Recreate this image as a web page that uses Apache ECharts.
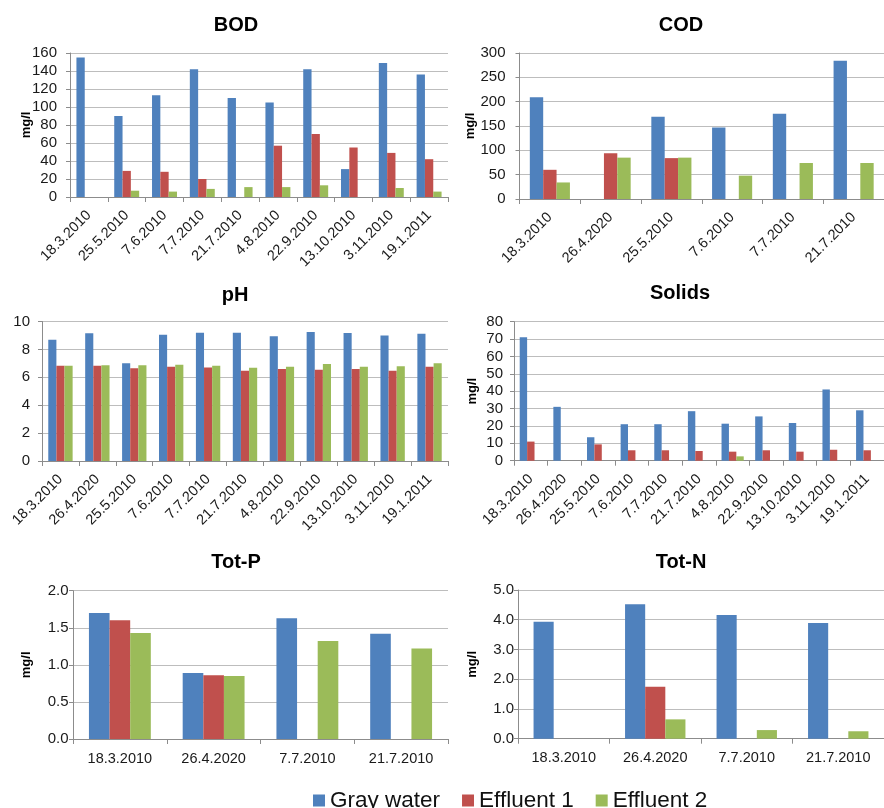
<!DOCTYPE html>
<html>
<head>
<meta charset="utf-8">
<script src="https://cdn.jsdelivr.net/npm/echarts@6/dist/echarts.min.js"></script>
<style>html,body{margin:0;padding:0;background:#fff;}#c{width:884px;height:808px;}</style>
</head>
<body>
<div id="c"></div>
<script>
const seriesNames = ['Gray water', 'Effluent 1', 'Effluent 2'];
const seriesColors = ['#4F81BD', '#C0504D', '#9BBB59'];

const bodDates = ['18.3.2010','25.5.2010','7.6.2010','7.7.2010','21.7.2010','4.8.2010','22.9.2010','13.10.2010','3.11.2010','19.1.2011'];
const bodGray = [155, 90, 113, 142, 110, 105, 142, 31, 149, 136];
const bodEff1 = [null, 29, 28, 20, null, 57, 70, 55, 49, 42];
const bodEff2 = [null, 7, 6, 9, 11, 11, 13, null, 10, 6];

const codDates = ['18.3.2010','26.4.2020','25.5.2010','7.6.2010','7.7.2010','21.7.2010'];
const codGray = [209, null, 169, 147, 175, 284];
const codEff1 = [60, 94, 84, null, null, null];
const codEff2 = [34, 85, 85, 48, 74, 74];

const phDates = ['18.3.2010','26.4.2020','25.5.2010','7.6.2010','7.7.2010','21.7.2010','4.8.2010','22.9.2010','13.10.2010','3.11.2010','19.1.2011'];
const phGray = [8.7, 9.15, 7.0, 9.05, 9.2, 9.2, 8.95, 9.25, 9.17, 9.0, 9.12];
const phEff1 = [6.82, 6.82, 6.65, 6.75, 6.7, 6.47, 6.6, 6.55, 6.6, 6.47, 6.75];
const phEff2 = [6.82, 6.87, 6.87, 6.9, 6.82, 6.68, 6.75, 6.95, 6.75, 6.8, 7.0];

const solidsDates = ['18.3.2010','26.4.2020','25.5.2010','7.6.2010','7.7.2010','21.7.2010','4.8.2010','22.9.2010','13.10.2010','3.11.2010','19.1.2011'];
const solidsGray = [71, 31, 13.5, 21, 21, 28.5, 21.3, 25.5, 21.7, 41, 29];
const solidsEff1 = [11, null, 9.4, 6, 6, 5.6, 5.2, 6, 5.2, 6.3, 6];
const solidsEff2 = [null, null, null, null, null, null, 2.5, null, null, null, null];

const totPDates = ['18.3.2010','26.4.2020','7.7.2010','21.7.2010'];
const totPGray = [1.70, 0.89, 1.63, 1.42];
const totPEff1 = [1.60, 0.86, null, null];
const totPEff2 = [1.43, 0.85, 1.32, 1.22];

const totNDates = ['18.3.2010','26.4.2020','7.7.2010','21.7.2010'];
const totNGray = [3.93, 4.52, 4.16, 3.89];
const totNEff1 = [null, 1.75, null, null];
const totNEff2 = [null, 0.65, 0.29, 0.25];

const panels = [
  {title: 'BOD', tx: 231, ty: 10, cats: bodDates, data: [bodGray, bodEff1, bodEff2], min: 0, max: 160, interval: 20, dec: 0, rot: 45, yname: 'mg/l', nameGap: 37, ymargin: 13,
   grid: {left: 70, top: 53, width: 378, height: 144}},
  {title: 'COD', tx: 676, ty: 10, cats: codDates, data: [codGray, codEff1, codEff2], min: 0, max: 300, interval: 50, dec: 0, rot: 45, yname: 'mg/l', nameGap: 43, ymargin: 14,
   grid: {left: 519.5, top: 53, width: 373, height: 146}},
  {title: 'pH', tx: 230, ty: 280, cats: phDates, data: [phGray, phEff1, phEff2], min: 0, max: 10, interval: 2, dec: 0, rot: 45, yname: '', nameGap: 30, ymargin: 12,
   grid: {left: 42, top: 321.5, width: 406, height: 139.5}},
  {title: 'Solids', tx: 675, ty: 278, cats: solidsDates, data: [solidsGray, solidsEff1, solidsEff2], min: 0, max: 80, interval: 10, dec: 0, rot: 45, yname: 'mg/l', nameGap: 35, ymargin: 11,
   grid: {left: 514, top: 321.7, width: 378.4, height: 139}},
  {title: 'Tot-P', tx: 231, ty: 547, cats: totPDates, data: [totPGray, totPEff1, totPEff2], min: 0, max: 2, interval: 0.5, dec: 1, rot: 0, yname: 'mg/l', nameGap: 40, ymargin: 4.5,
   grid: {left: 73, top: 590.7, width: 375, height: 148.3}},
  {title: 'Tot-N', tx: 676, ty: 547, cats: totNDates, data: [totNGray, totNEff1, totNEff2], min: 0, max: 5, interval: 1, dec: 1, rot: 0, yname: 'mg/l', nameGap: 39.5, ymargin: 4,
   grid: {left: 518, top: 590, width: 375, height: 148.7}}
];

const FONT = '"Liberation Sans", Arial, sans-serif';
const option = {
  animation: false,
  backgroundColor: '#ffffff',
  color: seriesColors,
  textStyle: {fontFamily: FONT},
  title: [], grid: [], xAxis: [], yAxis: [], series: [],
  legend: {
    data: seriesNames,
    left: 308, top: 784, padding: 5,
    itemWidth: 12, itemHeight: 12, itemGap: 22,
    icon: 'rect',
    textStyle: {fontFamily: FONT, fontSize: 22.5, color: '#111'}
  }
};

panels.forEach((p, i) => {
  option.title.push({
    text: p.title, left: p.tx, top: p.ty, textAlign: 'center',
    textStyle: {fontFamily: FONT, fontSize: 20, fontWeight: 'bold', color: '#000'}
  });
  option.grid.push(Object.assign({containLabel: false}, p.grid));
  option.xAxis.push({
    type: 'category', gridIndex: i, data: p.cats, boundaryGap: true,
    axisLine: {show: true, lineStyle: {color: '#8c8c8c', width: 1}},
    axisTick: {show: true, alignWithLabel: false, length: 5, lineStyle: {color: '#8c8c8c'}},
    axisLabel: {interval: 0, rotate: p.rot, margin: p.rot ? 16 : 12, fontSize: 14.5, color: '#1a1a1a', fontFamily: FONT}
  });
  option.yAxis.push({
    type: 'value', gridIndex: i, min: p.min, max: p.max, interval: p.interval,
    name: p.yname, nameLocation: 'middle', nameRotate: 90, nameGap: p.nameGap,
    nameMoveOverlap: false,
    nameTextStyle: {fontFamily: FONT, fontSize: 13, fontWeight: 'bold', color: '#000'},
    axisLine: {show: true, lineStyle: {color: '#8c8c8c', width: 1}},
    axisTick: {show: true, length: 4, lineStyle: {color: '#8c8c8c'}},
    splitLine: {show: true, lineStyle: {color: '#bdbdbd', width: 1}},
    axisLabel: {fontSize: 15, color: '#1a1a1a', margin: p.ymargin, fontFamily: FONT,
      formatter: v => v.toFixed(p.dec)}
  });
  p.data.forEach((arr, k) => {
    option.series.push({
      type: 'bar', name: seriesNames[k], xAxisIndex: i, yAxisIndex: i,
      data: arr, barGap: '0%', barCategoryGap: '34%',
      itemStyle: {color: seriesColors[k]}
    });
  });
});

const chart = echarts.init(document.getElementById('c'), null, {renderer: 'canvas'});
chart.setOption(option);
</script>
</body>
</html>
